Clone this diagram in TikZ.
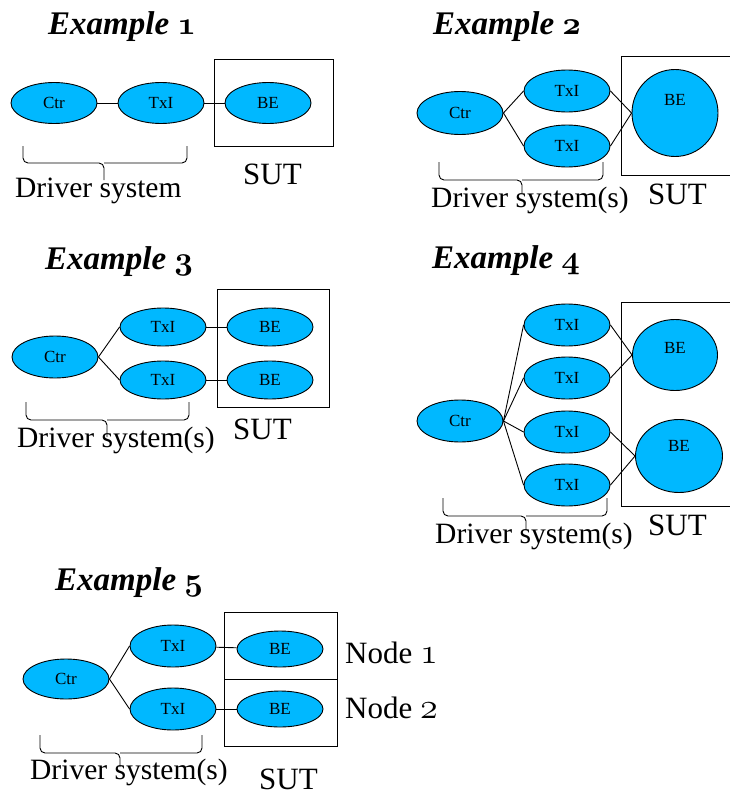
\documentclass[tikz,border=0pt]{standalone}
\usepackage{fontspec}
\usepackage{graphicx}
\setmainfont{Liberation Serif}
\usetikzlibrary{shapes.geometric}
\definecolor{skyb}{RGB}{0,184,255}
\newcommand\osn[1]{\scalebox{1.45}{\fontsize{24.88}{25}\usefont{OML}{cmm}{m}{it}#1}}
\newcommand\osb[1]{\scalebox{1.3}{\fontsize{24.88}{25}\usefont{OML}{cmm}{b}{it}#1}}
\newcommand\drvbrace[6]{%
  \draw[lnk,rounded corners=5pt] (#1,#4) |- (#3,#5) -- (#3,#6);
  \draw[lnk,rounded corners=5pt] (#2,#4) |- (#3,#5);}
\tikzset{
  ell/.style={ellipse, draw=black, line width=0.9pt, fill=skyb, minimum width=86pt,
    minimum height=41pt, inner sep=0pt, font=\fontsize{17}{17}\selectfont},
  lnk/.style={line width=0.9pt},
  sutbox/.style={draw, line width=0.9pt},
  ttl/.style={anchor=base west, inner sep=0pt, font=\fontsize{33}{33}\selectfont\bfseries\itshape},
  lbl/.style={anchor=base west, inner sep=0pt, font=\fontsize{29.5}{30}\selectfont},
  sutl/.style={anchor=base west, inner sep=0pt, font=\fontsize{31}{31}\selectfont},
}
\begin{document}
\begin{tikzpicture}[x=1pt,y=-1pt]
\useasboundingbox (0,0) rectangle (730,795);
% ---------- Example 1
\node[ttl] (t1) at (48,34) {Example \osb{1}};
\node[ell] (c1) at (54,103) {Ctr};
\node[ell] (x1) at (161,103) {TxI};
\node[ell] (b1) at (268,103) {BE};
\draw[sutbox] (214,59) rectangle (333,146);
\draw[lnk] (c1) -- (x1);
\draw[lnk] (x1) -- (b1);
\drvbrace{23}{187}{104}{146}{163}{180}
\node[lbl] (d1) at (15,197) {Driver system};
\node[sutl] (s1) at (243,184) {SUT};
% ---------- Example 2
\node[ttl] (t2) at (433,34) {Example \osb{2}};
\node[ell, minimum height=43pt] (c2) at (460,113) {Ctr};
\node[ell, minimum height=42pt] (x2a) at (567,91) {TxI};
\node[ell, minimum height=42pt] (x2b) at (567,146) {TxI};
\draw[sutbox] (621,56) rectangle (745,175);
\node[ell, minimum height=87pt, label={[yshift=13pt,font=\fontsize{17}{17}\selectfont]center:BE}] (b2) at (675,113) {};
\draw[lnk] (c2.east) -- (x2a.west);
\draw[lnk] (c2.east) -- (x2b.west);
\draw[lnk] (x2a.east) -- (b2.west);
\draw[lnk] (x2b.east) -- (b2.west);
\drvbrace{439}{603}{522}{162}{180}{193}
\node[lbl] (d2) at (431,207) {Driver system(s)};
\node[sutl] (s2) at (648,204) {SUT};
% ---------- Example 3
\node[ttl] (t3) at (45,269) {Example \osb{3}};
\node[ell, minimum height=42pt] (c3) at (55,357) {Ctr};
\node[ell, minimum height=38pt] (x3a) at (163,327) {TxI};
\node[ell, minimum height=38pt] (x3b) at (163,380) {TxI};
\node[ell, minimum height=38pt] (b3a) at (270,327) {BE};
\node[ell, minimum height=38pt] (b3b) at (270,380) {BE};
\draw[sutbox] (217,289) rectangle (329,407);
\draw[lnk] (c3.east) -- (x3a.west);
\draw[lnk] (c3.east) -- (x3b.west);
\draw[lnk] (x3a) -- (b3a);
\draw[lnk] (x3b) -- (b3b);
\drvbrace{26}{189}{107}{402}{420}{437}
\node[lbl] (d3) at (17,447) {Driver system(s)};
\node[sutl] (s3) at (233,439) {SUT};
% ---------- Example 4
\node[ttl] (t4) at (432,268) {Example \osb{4}};
\node[ell, minimum height=42pt] (c4) at (460,421) {Ctr};
\node[ell, minimum height=42pt] (x4a) at (567,325) {TxI};
\node[ell, minimum height=42pt] (x4b) at (567,378) {TxI};
\node[ell, minimum height=42pt] (x4c) at (567,432) {TxI};
\node[ell, minimum height=42pt] (x4d) at (567,485) {TxI};
\draw[sutbox] (621,302) rectangle (745,506);
\node[ell, minimum width=85pt, minimum height=71pt, label={[yshift=7pt,font=\fontsize{17}{17}\selectfont]center:BE}] (b4a) at (675,355) {};
\node[ell, minimum width=87pt, minimum height=73pt, label={[yshift=10pt,font=\fontsize{17}{17}\selectfont]center:BE}] (b4b) at (679,456) {};
\draw[lnk] (c4.east) -- (x4a.west);
\draw[lnk] (c4.east) -- (x4b.west);
\draw[lnk] (c4.east) -- (x4c.west);
\draw[lnk] (c4.east) -- (x4d.west);
\draw[lnk] (x4a.east) -- (b4a.west);
\draw[lnk] (x4b.east) -- (b4a.west);
\draw[lnk] (x4c.east) -- (b4b.west);
\draw[lnk] (x4d.east) -- (b4b.west);
\drvbrace{443}{607}{526}{498}{516}{530}
\node[lbl] (d4) at (435,543) {Driver system(s)};
\node[sutl] (s4) at (648,535) {SUT};
% ---------- Example 5
\node[ttl] (t5) at (55,590) {Example \osb{5}};
\node[ell, minimum height=40pt] (c5) at (66,679) {Ctr};
\node[ell, minimum height=42pt] (x5a) at (173,646) {TxI};
\node[ell, minimum height=42pt] (x5b) at (173,709) {TxI};
\node[ell, minimum height=36pt] (b5a) at (280,649) {BE};
\node[ell, minimum height=36pt] (b5b) at (280,709) {BE};
\draw[sutbox] (224,612) rectangle (337,679);
\draw[sutbox] (224,679) rectangle (337,746);
\draw[lnk] (c5.east) -- (x5a.west);
\draw[lnk] (c5.east) -- (x5b.west);
\draw[lnk] (x5a) -- (b5a);
\draw[lnk] (x5b) -- (b5b);
\node[sutl] (n1) at (345,663) {Node \osn{1}};
\node[sutl] (n2) at (345,718) {Node \osn{2}};
\drvbrace{40}{202}{120}{735}{753}{767}
\node[lbl] (d5) at (30,779) {Driver system(s)};
\node[sutl] (s5) at (259,789) {SUT};
\end{tikzpicture}
\end{document}
